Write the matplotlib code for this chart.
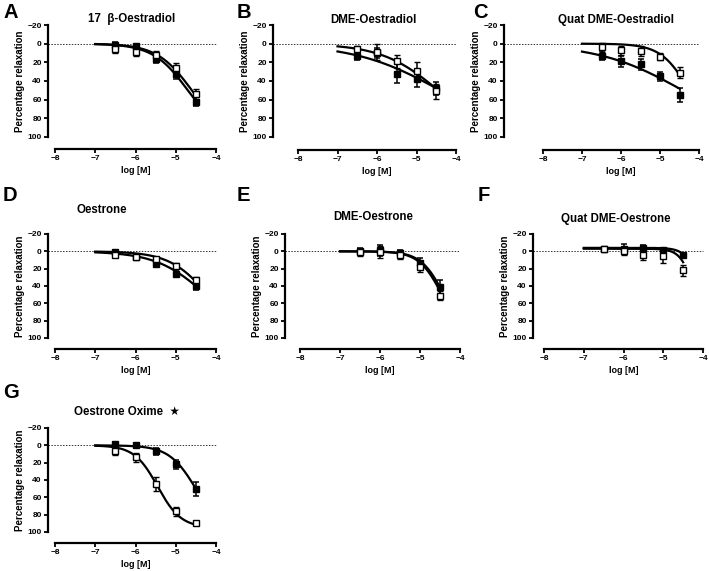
import numpy as np
import matplotlib
matplotlib.use("Agg")
import matplotlib.pyplot as plt
import matplotlib.transforms as mtransforms

plt.rcParams["font.family"] = ["Liberation Sans", "DejaVu Sans"]
plt.rcParams["font.weight"] = "bold"

W, H = 709, 571

LOG_M = [-6.5, -6.0, -5.5, -5.0, -4.5]
YTICKS = [-20, 0, 20, 40, 60, 80, 100]
XTICKS = [-8, -7, -6, -5, -4]

LETTERS = ["A", "B", "C", "D", "E", "F", "G"]
TITLES = ["17  \u03b2-Oestradiol", "DME-Oestradiol", "Quat DME-Oestradiol",
          "Oestrone", "DME-Oestrone", "Quat DME-Oestrone", "Oestrone Oxime  \u2605"]

# mean relaxation (%) and SEM, filled squares
FILLED_Y = [
    [1, 3, 16, 33, 62],
    [13, 10, 32, 38, 48],
    [13, 19, 22, 35, 55],
    [1, 6, 15, 26, 40],
    [0, -1, 2, 14, 41],
    [-3, -3, -4, -1, 4],
    [-1, 0, 7, 22, 50],
]
FILLED_ERR = [
    [3, 3, 5, 5, 5],
    [4, 5, 10, 8, 7],
    [5, 6, 6, 5, 8],
    [2, 2, 3, 4, 5],
    [4, 6, 4, 6, 8],
    [2, 5, 3, 3, 2],
    [3, 2, 4, 5, 8],
]
# open squares
OPEN_Y = [
    [6, 9, 12, 26, 54],
    [6, 9, 19, 29, 51],
    [4, 7, 8, 14, 31],
    [4, 6, 9, 17, 33],
    [1, 1, 4, 18, 51],
    [-3, 0, 4, 5, 22],
    [6, 14, 45, 76, 90],
]
OPEN_ERR = [
    [4, 4, 4, 5, 5],
    [4, 9, 7, 9, 8],
    [5, 5, 5, 4, 6],
    [3, 2, 3, 3, 3],
    [4, 7, 5, 6, 5],
    [2, 4, 6, 9, 6],
    [5, 5, 8, 5, 2],
]

# fitted curves (bottom, top, logEC50, hill)
FILLED_FIT = [
    (0, 100, -4.70, 1.0),
    (0, 100, -4.40, 0.4),
    (0, 100, -4.42, 0.4),
    (0, 100, -4.25, 0.7),
    (0, 100, -4.40, 1.5),
    (-4, 100, -4.05, 2.5),
    (0, 100, -4.50, 1.3),
]
OPEN_FIT = [
    (0, 100, -4.60, 1.0),
    (0, 100, -4.45, 0.6),
    (0, 100, -4.25, 1.2),
    (0, 100, -4.20, 0.9),
    (0, 100, -4.45, 1.5),
    (-3, 100, -4.20, 2.5),
    (0, 95, -5.45, 1.5),
]

# panel geometry in pixels: y-spine x, x-axis left, x-axis right, y(-20), y(100), x-axis y
PANELS = [
    (48, 55, 216, 25, 137, 149),
    (273, 298, 456, 25, 137, 150),
    (504, 543, 699, 25, 137, 150),
    (48, 55, 216, 234, 338, 349),
    (285, 300, 460, 234, 338, 349),
    (533, 544, 703, 234, 338, 349),
    (48, 55, 216, 428, 532, 543),
]
TITLE_POS = [(132, 19), (373, 20), (616, 20), (102, 210), (373, 217), (616, 219), (127, 412)]
LETTER_POS = [(3, 12), (237, 12), (473, 12), (3, 196), (237, 196), (478, 196), (3, 392)]


def hill(x, p):
    bottom, top, ec, h = p
    return bottom + (top - bottom) / (1 + 10 ** ((ec - x) * h))


fig = plt.figure(figsize=(W / 100, H / 100), dpi=100)
xs = np.linspace(-7, -4.5, 200)

for i in range(7):
    sx, x0, x1, yt, yb, xa = PANELS[i]
    ax = fig.add_axes([x0 / W, 1 - yb / H, (x1 - x0) / W, (yb - yt) / H])
    ax.set_xlim(-8, -4)
    ax.set_ylim(100, -20)
    for s in ("top", "right"):
        ax.spines[s].set_visible(False)
    ax.spines["left"].set_position(("outward", (x0 - sx) * 0.72))
    ax.spines["bottom"].set_position(("outward", (xa - yb) * 0.72))
    for s in ("left", "bottom"):
        ax.spines[s].set_linewidth(1.6)
    ax.set_yticks(YTICKS)
    ax.set_xticks(XTICKS)
    ax.set_xticklabels([f"\u2212{abs(t)}" for t in XTICKS])
    ax.set_yticklabels([f"\u2212{abs(t)}" if t < 0 else str(t) for t in YTICKS])
    ax.tick_params(length=3, width=1.3, labelsize=6, pad=1.5)
    for lab in ax.get_xticklabels() + ax.get_yticklabels():
        lab.set_fontweight("bold")
    ax.set_xlabel("log [M]", fontsize=6.5, fontweight="bold", labelpad=3)
    ax.set_ylabel("Percentage relaxation", fontsize=7, fontweight="bold", labelpad=2)

    tr = mtransforms.blended_transform_factory(ax.transAxes, ax.transData)
    ax.plot([-(x0 - sx) / (x1 - x0), 1], [0, 0], ls=(0, (1.5, 1.5)), lw=0.7,
            color="#333333", transform=tr, clip_on=False)

    ax.plot(xs, hill(xs, FILLED_FIT[i]), color="black", lw=1.6, zorder=2)
    ax.plot(xs, hill(xs, OPEN_FIT[i]), color="black", lw=1.6, zorder=2)
    ax.errorbar(LOG_M, FILLED_Y[i], yerr=FILLED_ERR[i], fmt="s", ms=4,
                mfc="black", mec="black", ecolor="black", elinewidth=1.1,
                capsize=2.2, capthick=1.1, zorder=3, clip_on=False)
    ax.errorbar(LOG_M, OPEN_Y[i], yerr=OPEN_ERR[i], fmt="s", ms=4,
                mfc="white", mec="black", mew=1.0, ecolor="black", elinewidth=1.1,
                capsize=2.2, capthick=1.1, zorder=4, clip_on=False)

    tx, ty = TITLE_POS[i]
    fig.text(tx / W, 1 - ty / H, TITLES[i], ha="center", va="center",
             fontsize=8.3, fontweight="bold")
    lx, ly = LETTER_POS[i]
    fig.text(lx / W, 1 - ly / H, LETTERS[i], ha="left", va="center",
             fontsize=14.5, fontweight="bold")

fig.savefig("out.png", dpi=100)
